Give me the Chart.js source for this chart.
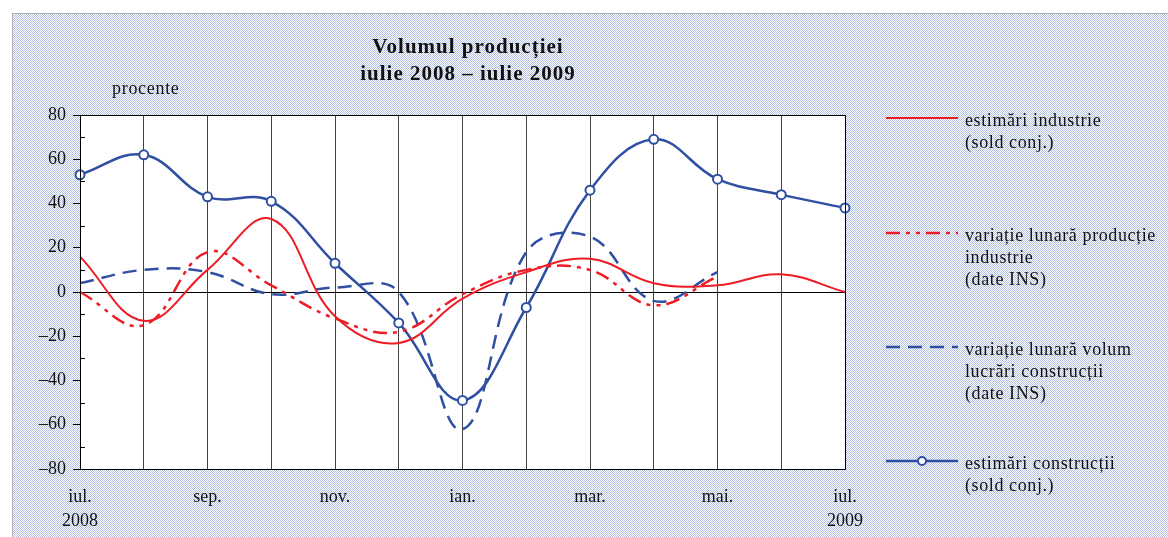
<!DOCTYPE html>
<html>
<head>
<meta charset="utf-8">
<script src="https://cdn.jsdelivr.net/npm/chart.js@4/dist/chart.umd.min.js"></script>
<style>
  html, body { margin: 0; padding: 0; background: #fff; }
  #wrap { width: 1168px; height: 537px; position: relative; }
</style>
</head>
<body>
<div id="wrap"><canvas id="lineChart" width="1168" height="537"></canvas></div>
<script>
var months = ['iul.', 'aug.', 'sep.', 'oct.', 'nov.', 'dec.', 'ian.', 'feb.', 'mar.', 'apr.', 'mai.', 'iun.', 'iul.'];
var xTickLabels = [['iul.', '2008'], '', 'sep.', '', 'nov.', '', 'ian.', '', 'mar.', '', 'mai.', '', ['iul.', '2009']];
var yTicks = [-80, -60, -40, -20, 0, 20, 40, 60, 80];

var estimariIndustrie = [16, -13, 10, 33, -11, -23, -3, 9, 15, 4, 3, 8, 0];
var variatieProductie = [0, -15, 18, 3, -12, -18, -1, 10, 10, -6, 7, null, null];
var variatieConstructii = [4, 10, 9, -1, 2, 0, -62, 18, 25, -4, 9, null, null];
var estimariConstructii = [53, 62, 43, 41, 13, -14, -49, -7, 46, 69, 51, 44, 38];

var legendLabels = [
  ['estimări industrie', '(sold conj.)'],
  ['variație lunară producție', 'industrie', '(date INS)'],
  ['variație lunară volum', 'lucrări construcții', '(date INS)'],
  ['estimări construcții', '(sold conj.)']
];

var RED = '#ee1c24';
var BLUE = '#2f4fa2';
var SERIF = '"Liberation Serif", "DejaVu Serif", serif';

// dotted background pattern
var tile = document.createElement('canvas');
tile.width = 2; tile.height = 2;
var tctx = tile.getContext('2d');
tctx.fillStyle = '#ffffff'; tctx.fillRect(0, 0, 2, 2);
tctx.fillStyle = '#b4c0e4';
tctx.fillRect(0, 0, 1, 1); tctx.fillRect(1, 1, 1, 1);

var decorPlugin = {
  id: 'decor',
  beforeDraw: function (chart) {
    var c = chart.ctx, a = chart.chartArea;
    c.save();
    c.fillStyle = '#fff';
    c.fillRect(0, 0, chart.width, chart.height);
    c.fillStyle = c.createPattern(tile, 'repeat');
    c.fillRect(12, 13, chart.width - 12, chart.height - 13);
    c.strokeStyle = '#b0b0b0';
    c.lineWidth = 1;
    c.strokeRect(12.5, 13.5, chart.width, chart.height);
    c.fillStyle = '#fff';
    c.fillRect(a.left, a.top, a.right - a.left, a.bottom - a.top);
    c.restore();
  },
  afterDraw: function (chart) {
    var c = chart.ctx, a = chart.chartArea, y = chart.scales.y;
    c.save();
    // plot frame
    c.strokeStyle = '#000';
    c.lineWidth = 1;
    c.strokeRect(Math.round(a.left) + 0.5, Math.round(a.top) + 0.5, Math.round(a.right - a.left), Math.round(a.bottom - a.top));
    // minor ticks inside
    for (var v = -70; v <= 70; v += 20) {
      var py = Math.round(y.getPixelForValue(v)) + 0.5;
      c.beginPath();
      c.moveTo(a.left, py);
      c.lineTo(a.left + 5, py);
      c.stroke();
    }
    // titles
    c.fillStyle = '#111';
    c.textAlign = 'center';
    c.textBaseline = 'middle';
    c.font = 'bold 21px ' + SERIF;
    c.letterSpacing = '1px';
    c.fillText('Volumul producției', 468, 48);
    c.fillText('iulie 2008 – iulie 2009', 468, 75);
    c.font = '18px ' + SERIF;
    c.letterSpacing = '0.7px';
    c.textAlign = 'left';
    c.fillText('procente', 112, 89);
    // legend
    var rows = [118, 233, 347, 461];
    c.font = '18px ' + SERIF;
    c.letterSpacing = '0.6px';
    chart.data.datasets.forEach(function (ds, i) {
      var ly = rows[i];
      c.save();
      c.strokeStyle = ds.borderColor;
      c.lineWidth = ds.borderWidth;
      c.setLineDash(ds.borderDash || []);
      c.beginPath();
      c.moveTo(886, ly);
      c.lineTo(958, ly);
      c.stroke();
      c.setLineDash([]);
      if (ds.pointRadius > 0) {
        c.fillStyle = '#fff';
        c.lineWidth = 2;
        c.beginPath();
        c.arc(922, ly, 4, 0, Math.PI * 2);
        c.fill();
        c.stroke();
      }
      c.restore();
      legendLabels[i].forEach(function (t, k) {
        c.fillText(t, 965, ly + 3 + k * 22);
      });
    });
    c.restore();
  }
};

var ctx = document.getElementById('lineChart').getContext('2d');
var chart = new Chart(ctx, {
  type: 'line',
  data: {
    labels: months,
    datasets: [{
      label: legendLabels[0].join(' '),
      data: estimariIndustrie,
      borderColor: RED,
      borderWidth: 2,
      pointRadius: 0,
      tension: 0.4
    }, {
      label: legendLabels[1].join(' '),
      data: variatieProductie,
      borderColor: RED,
      borderWidth: 2.5,
      borderDash: [14, 6, 4, 6, 4, 6],
      pointRadius: 0,
      tension: 0.4
    }, {
      label: legendLabels[2].join(' '),
      data: variatieConstructii,
      borderColor: BLUE,
      borderWidth: 2.5,
      borderDash: [14, 8],
      pointRadius: 0,
      tension: 0.4
    }, {
      label: legendLabels[3].join(' '),
      data: estimariConstructii,
      borderColor: BLUE,
      borderWidth: 2.5,
      pointRadius: 4.5,
      pointBorderWidth: 2,
      pointBackgroundColor: '#fff',
      pointBorderColor: BLUE,
      tension: 0.4
    }]
  },
  options: {
    responsive: false,
    animation: false,
    devicePixelRatio: 1,
    layout: {
      padding: { left: 0, right: 323, top: 115, bottom: 0 }
    },
    plugins: {
      legend: { display: false },
      tooltip: { enabled: false }
    },
    scales: {
      x: {
        afterFit: function (scale) { scale.height = 68; },
        grid: {
          color: '#444',
          drawTicks: false
        },
        border: { color: '#000' },
        ticks: {
          autoSkip: false,
          maxRotation: 0,
          padding: 16,
          color: '#111',
          font: { family: SERIF, size: 18, lineHeight: 1.333 },
          callback: function (val, i) { return xTickLabels[i]; }
        }
      },
      y: {
        min: -80,
        max: 80,
        afterFit: function (scale) { scale.width = 80; },
        afterBuildTicks: function (scale) {
          scale.ticks = yTicks.map(function (v) { return { value: v }; });
        },
        grid: {
          color: function (c) { return c.tick && c.tick.value === 0 ? '#000' : 'rgba(0,0,0,0)'; },
          tickColor: '#000',
          tickLength: 7
        },
        border: { color: '#000' },
        ticks: {
          padding: 7,
          color: '#111',
          font: { family: SERIF, size: 18 },
          callback: function (v) { return v < 0 ? '–' + Math.abs(v) : v; }
        }
      }
    }
  },
  plugins: [decorPlugin]
});
</script>
</body>
</html>
